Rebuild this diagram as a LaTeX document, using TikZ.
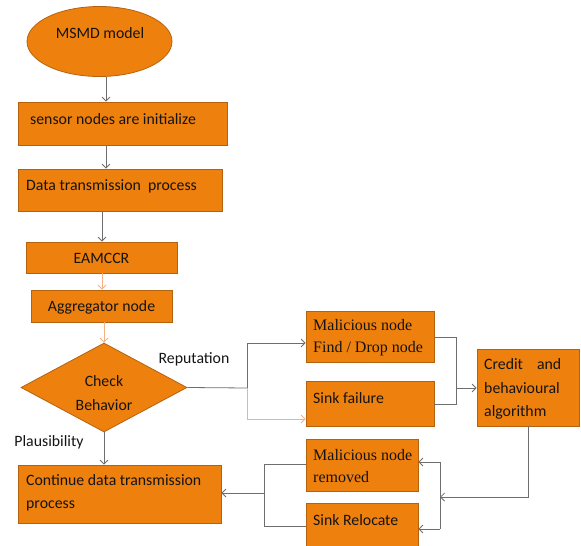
\documentclass[tikz,border=0pt]{standalone}
\usepackage{fontspec}
\setmainfont{Carlito}
\newfontfamily\serifface{Liberation Serif}
\usetikzlibrary{arrows.meta,shapes.geometric}
\definecolor{boxfill}{HTML}{EE800E}
\definecolor{boxedge}{HTML}{B5620F}
\definecolor{wire}{HTML}{6E6E6E}
\definecolor{wirelight}{HTML}{F4B183}
\definecolor{ink}{HTML}{141414}
\tikzset{
  box/.style={draw=boxedge, fill=boxfill, line width=0.8pt, inner sep=0pt, rectangle},
  txt/.style={inner sep=0pt, text=ink, font=\fontsize{15.8pt}{23.5pt}\selectfont, align=left},
  serif/.style={inner sep=0pt, text=ink, font=\serifface\fontsize{16pt}{22pt}\selectfont, align=left},
  conn/.style={draw=wire, line width=0.8pt},
  arr/.style={conn, -{Straight Barb[length=4pt,width=8pt]}},
  arrlight/.style={arr, draw=wirelight},
}
\begin{document}
\begin{tikzpicture}[x=1pt,y=-1pt]
\useasboundingbox (0,0) rectangle (581,546);

% flow shapes
\node[box, ellipse, minimum width=145pt, minimum height=70pt] (ell) at (99.5,41.5) {};
\node[txt] (elltxt) at (100,33) {MSMD model};

\node[box, minimum width=209pt, minimum height=43pt] (init) at (122.5,123.5) {};
\node[txt, anchor=west] (inittxt) at (30,119) {sensor nodes are initialize};

\node[box, minimum width=204pt, minimum height=42pt] (trans) at (120,190) {};
\node[txt, anchor=west] (transtxt) at (26,186) {Data transmission\ \ process};

\node[box, minimum width=151pt, minimum height=31pt] (eam) at (101.5,257.5) {};
\node[txt] (eamtxt) at (101.5,258) {EAMCCR};

\node[box, minimum width=141pt, minimum height=32pt] (agg) at (101.5,306) {};
\node[txt] (aggtxt) at (101.5,307) {Aggregator node};

\node[box, diamond, aspect=1.87, minimum width=166pt, minimum height=89pt] (chk) at (104,387.5) {};
\node[txt, align=center] (chktxt) at (104,393) {Check\\Behavior};

\node[txt] (rep) at (194,359) {Reputation};
\node[txt] (plaus) at (49,442) {Plausibility};

\node[box, minimum width=203pt, minimum height=58pt] (cont) at (119.5,494) {};
\node[txt, anchor=west] (conttxt) at (26,493) {Continue data transmission\\process};

\node[box, minimum width=128pt, minimum height=51pt] (mal) at (370,336.5) {};
\node[serif, anchor=west] (maltxt) at (313,338) {Malicious node\\Find / Drop node};

\node[box, minimum width=128pt, minimum height=45pt] (sink) at (370,403.5) {};
\node[txt, anchor=west] (sinktxt) at (313,398) {Sink failure};

\node[box, minimum width=102pt, minimum height=77pt] (cred) at (528,387.5) {};
\node[txt, anchor=west, text width=77pt, align=justify] (credtxt) at (484,389) {Credit and behavioural algorithm};

\node[box, minimum width=112pt, minimum height=52pt] (rem) at (362,465) {};
\node[serif, anchor=west] (remtxt) at (313,466) {Malicious node\\removed};

\node[box, minimum width=112pt, minimum height=54pt] (rel) at (362,530) {};
\node[txt, anchor=west] (reltxt) at (313,520) {Sink Relocate};

% routing points
\coordinate (s1) at (106,0);
\coordinate (s2) at (102,0);
\coordinate (s3) at (104,0);
\coordinate (split) at (247,388);
\coordinate (splitup) at (247,343);
\coordinate (splitdn) at (247,419);
\coordinate (joinup) at (456,337);
\coordinate (joindn) at (456,404);
\coordinate (join) at (456,388);
\coordinate (drop) at (528,497);
\coordinate (fork) at (440,497);
\coordinate (forkup) at (440,462);
\coordinate (forkdn) at (440,529);
\coordinate (mergeup) at (264,464);
\coordinate (mergedn) at (264,526);
\coordinate (merge) at (264,493);

% connectors
\draw[arr] (ell.south -| s1) -- (init.north -| s1);
\draw[arr] (init.south -| s1) -- (trans.north -| s1);
\draw[arr] (trans.south -| s2) -- (eam.north -| s2);
\draw[arrlight] (eam.south -| s2) -- (agg.north -| s2);
\draw[arrlight] (agg.south -| s3) -- (chk.north);
\draw[arr] (chk.south) -- (cont.north -| chk.south);

\draw[conn] (chk.east) -- (split);
\draw[arr] (split) -- (splitup) -- (mal.west |- splitup);
\draw[arrlight] (split) -- (splitdn) -- (sink.west |- splitdn);

\draw[conn] (mal.east |- joinup) -- (joinup) -- (joindn) -- (sink.east |- joindn);
\draw[arr] (join) -- (cred.west |- join);

\draw[arr] (cred.south -| drop) -- (drop) -- (fork);
\draw[arr] (forkup) -- (rem.east |- forkup);
\draw[arr] (forkdn) -- (rel.east |- forkdn);
\draw[conn] (forkup) -- (forkdn);

\draw[conn] (rem.west |- mergeup) -- (mergeup) -- (mergedn) -- (rel.west |- mergedn);
\draw[arr] (merge) -- (cont.east |- merge);
\end{tikzpicture}
\end{document}
